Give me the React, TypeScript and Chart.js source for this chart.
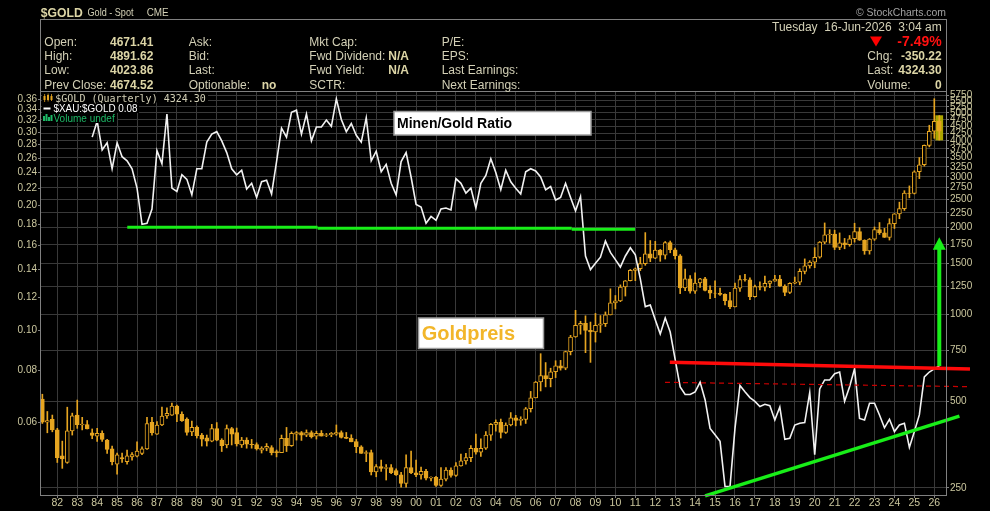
import { useEffect, useRef } from 'react';
import { Chart, registerables } from 'chart.js';

Chart.register(...registerables);

// Quarterly gold candles, the first one is 1981 Q2
const firstQuarter = 1981.25;

const goldOpen = [
  508, 422, 432,
  397, 323, 306, 394, 447, 413, 414, 388, 378, 386, 366, 341, 302, 318, 308, 320,
  322, 329, 341, 422, 384, 413, 444, 447, 480, 450, 433, 391, 405, 381, 373, 363,
  401, 366, 352, 401, 389, 352, 366, 354, 353, 338, 343, 345, 334, 331, 371, 350,
  384, 389, 381, 389, 378, 386, 380, 382, 384, 389, 374, 372, 362, 347, 329, 331,
  284, 296, 292, 294, 287, 277, 259, 294, 282, 277, 285, 270, 272, 255, 268, 288,
  276, 298, 310, 318, 343, 332, 343, 381, 415, 422, 389, 413, 437, 428, 432, 470,
  513, 582, 613, 598, 632, 663, 650, 742, 834, 916, 930, 880, 869, 916, 927, 996,
  1096, 1113, 1244, 1307, 1421, 1439, 1500, 1620, 1565, 1669, 1604, 1773, 1675, 1596, 1234, 1327,
  1202, 1284, 1327, 1211, 1184, 1183, 1172, 1115, 1061, 1233, 1321, 1316, 1152, 1249, 1242, 1280,
  1303, 1325, 1253, 1192, 1282, 1292, 1409, 1472, 1517, 1577, 1781, 1886, 1898, 1708, 1770, 1743,
  1829, 1937, 1807, 1660, 1824, 1969, 1919, 1849, 2063, 2230, 2327, 2634, 2625, 3124, 3303, 3859,
  4316, 4671.41,
];
const goldHigh = [
  528, 460, 447,
  402, 363, 476, 454, 504, 439, 428, 400, 402, 394, 368, 349, 330, 330, 338, 331,
  361, 347, 439, 439, 424, 476, 474, 492, 484, 459, 437, 426, 410, 386, 381, 415,
  421, 370, 413, 405, 403, 374, 373, 368, 358, 347, 356, 350, 338, 381, 405, 391,
  392, 392, 397, 394, 393, 395, 386, 389, 413, 394, 389, 382, 368, 350, 336, 338,
  301, 312, 301, 301, 291, 283, 325, 335, 312, 295, 290, 273, 274, 294, 294, 293,
  306, 327, 329, 350, 384, 370, 392, 418, 430, 433, 420, 456, 446, 441, 475, 540,
  585, 730, 680, 650, 690, 692, 745, 845, 1032, 946, 988, 940, 1007, 990, 1019, 1226,
  1162, 1265, 1310, 1431, 1448, 1577, 1921, 1803, 1791, 1679, 1789, 1796, 1697, 1612, 1434, 1362,
  1392, 1332, 1345, 1255, 1307, 1232, 1178, 1191, 1283, 1362, 1375, 1337, 1264, 1296, 1358, 1307,
  1366, 1365, 1266, 1287, 1347, 1439, 1557, 1535, 1703, 1789, 2075, 1966, 1959, 1916, 1834, 1877,
  2070, 1998, 1814, 1833, 2009, 2082, 1987, 2146, 2236, 2450, 2685, 2790, 3148, 3500, 3870, 4530,
  5600, 4891.62,
];
const goldLow = [
  418, 388, 391,
  306, 292, 304, 381, 402, 397, 400, 370, 362, 362, 329, 300, 279, 306, 302, 312,
  320, 326, 340, 381, 383, 411, 435, 446, 424, 425, 381, 379, 372, 349, 349, 361,
  364, 334, 344, 352, 349, 345, 343, 343, 338, 330, 336, 325, 320, 331, 334, 348,
  366, 365, 376, 372, 369, 378, 376, 376, 380, 372, 370, 361, 331, 329, 308, 277,
  273, 285, 266, 280, 276, 251, 251, 280, 273, 268, 266, 264, 253, 253, 264, 272,
  274, 297, 302, 308, 327, 321, 340, 365, 393, 372, 386, 410, 410, 412, 418, 458,
  513, 542, 560, 560, 603, 640, 642, 723, 832, 853, 736, 681, 801, 865, 907, 995,
  1044, 1106, 1157, 1305, 1308, 1418, 1479, 1523, 1560, 1527, 1555, 1635, 1555, 1180, 1207, 1183,
  1182, 1240, 1205, 1132, 1142, 1162, 1077, 1046, 1061, 1200, 1302, 1123, 1146, 1214, 1205, 1236,
  1302, 1250, 1160, 1180, 1276, 1266, 1381, 1446, 1451, 1566, 1757, 1765, 1677, 1676, 1688, 1722,
  1780, 1805, 1615, 1617, 1805, 1893, 1848, 1810, 1985, 2146, 2293, 2537, 2615, 2957, 3268, 3810,
  4080, 4023.86,
];
const goldClose = [
  422, 428, 397,
  318, 315, 394, 444, 414, 416, 400, 380, 386, 368, 340, 308, 325, 315, 323, 326,
  335, 341, 418, 388, 413, 443, 453, 480, 450, 427, 389, 405, 379, 369, 363, 401,
  366, 350, 401, 384, 355, 366, 354, 353, 341, 343, 348, 331, 331, 371, 350, 386,
  389, 381, 389, 376, 386, 378, 382, 386, 389, 374, 371, 361, 347, 329, 331, 284,
  296, 292, 294, 282, 277, 259, 294, 282, 277, 285, 270, 272, 255, 268, 288, 276,
  298, 310, 318, 343, 332, 343, 381, 415, 422, 389, 413, 437, 428, 432, 470, 513,
  582, 613, 598, 632, 663, 650, 742, 834, 916, 930, 880, 869, 916, 927, 996, 1096,
  1113, 1244, 1307, 1421, 1439, 1500, 1620, 1565, 1669, 1604, 1773, 1675, 1596, 1234, 1327, 1202,
  1284, 1327, 1211, 1184, 1183, 1172, 1115, 1061, 1233, 1321, 1316, 1152, 1249, 1242, 1280, 1303,
  1325, 1253, 1192, 1282, 1292, 1409, 1472, 1517, 1577, 1781, 1886, 1898, 1708, 1770, 1743, 1829,
  1937, 1807, 1660, 1824, 1969, 1919, 1849, 2063, 2230, 2327, 2634, 2625, 3124, 3303, 3859, 4316,
  4674.52, 4324.3,
];

// $XAU:$GOLD ratio, quarterly, the first value is 1983 Q4
const ratioStart = 1983.75;
const xauGoldRatio = [
  0.292,
  0.319, 0.272, 0.283, 0.245, 0.283, 0.262, 0.256, 0.245, 0.22, 0.18, 0.181, 0.196,
  0.271, 0.252, 0.332, 0.22, 0.216, 0.237, 0.231, 0.212, 0.245, 0.245, 0.284, 0.297,
  0.301, 0.286, 0.268, 0.245, 0.237, 0.243, 0.219, 0.226, 0.209, 0.228, 0.23, 0.213,
  0.255, 0.307, 0.292, 0.335, 0.339, 0.297, 0.332, 0.286, 0.309, 0.309, 0.321, 0.31,
  0.361, 0.322, 0.301, 0.315, 0.295, 0.284, 0.325, 0.256, 0.27, 0.241, 0.251, 0.226,
  0.212, 0.255, 0.268, 0.234, 0.201, 0.198, 0.181, 0.188, 0.184, 0.196, 0.197, 0.195,
  0.232, 0.226, 0.214, 0.22, 0.197, 0.226, 0.236, 0.259, 0.24, 0.218, 0.243, 0.228,
  0.22, 0.213, 0.241, 0.245, 0.242, 0.234, 0.218, 0.222, 0.206, 0.209, 0.226, 0.209,
  0.194, 0.21, 0.151, 0.14, 0.145, 0.15, 0.164, 0.154, 0.148, 0.142, 0.151, 0.158,
  0.152, 0.133, 0.114, 0.115, 0.106, 0.098, 0.107, 0.099, 0.085, 0.073, 0.07, 0.07,
  0.071, 0.075, 0.068, 0.058, 0.056, 0.054, 0.042, 0.042, 0.058, 0.0736, 0.0711, 0.0688,
  0.0674, 0.0655, 0.0663, 0.0658, 0.0608, 0.0653, 0.0546, 0.0549, 0.0591, 0.0597, 0.0599, 0.0708,
  0.0501, 0.0722, 0.0759, 0.0759, 0.0786, 0.0793, 0.0674, 0.0731, 0.0808, 0.0613, 0.0608, 0.0667,
  0.0667, 0.0625, 0.0582, 0.061, 0.057, 0.0591, 0.0597, 0.0522, 0.057, 0.0625, 0.0772, 0.0793,
  0.0807, 0.082,
];

const yearTicks = [
  1982, 1983, 1984, 1985, 1986, 1987, 1988, 1989, 1990, 1991, 1992, 1993, 1994, 1995, 1996,
  1997, 1998, 1999, 2000, 2001, 2002, 2003, 2004, 2005, 2006, 2007, 2008, 2009, 2010, 2011,
  2012, 2013, 2014, 2015, 2016, 2017, 2018, 2019, 2020, 2021, 2022, 2023, 2024, 2025, 2026,
];
const ratioTicks = [0.06, 0.08, 0.1, 0.12, 0.14, 0.16, 0.18, 0.2, 0.22, 0.24, 0.26, 0.28, 0.3, 0.32, 0.34, 0.36];
const goldTicks = [
  250, 500, 750, 1000, 1250, 1500, 1750, 2000, 2250, 2500, 2750, 3000,
  3250, 3500, 3750, 4000, 4250, 4500, 4750, 5000, 5250, 5500, 5750,
];

// hand drawn trend lines, [year, ratio]
const supportA = [[1985.51, 0.1771], [1995.06, 0.1771]];
const supportB = [[1995.06, 0.1761], [2007.81, 0.1761]];
const supportC = [[2007.81, 0.1751], [2010.99, 0.1751]];
const resistance = [[2012.73, 0.0837], [2027.79, 0.0807]];
const resistanceDashed = [[2012.49, 0.0749], [2027.79, 0.0731]];
const risingSupport = [[2014.5, 0.0399], [2027.26, 0.0621]];
// breakout arrow
const arrowYear = 2026.25;
const arrowFrom = 0.082;
const arrowTo = 0.1675;

const FONT = '"Liberation Sans", Arial, sans-serif';
const LABEL = '#d3d0b6';
const VALUE = '#dcd5a6';
const AXIS = '#ccc89f';
const ORANGE = '#e6a521';
const GREEN = '#18ee18';
const GRID = '#393939';
const FRAME = '#808080';

function txt(ctx: any, s: string, x: number, y: number, font: string, color: string, align = 'left', maxWidth?: number) {
  ctx.font = font;
  ctx.fillStyle = color;
  ctx.textAlign = align;
  ctx.textBaseline = 'alphabetic';
  if (maxWidth) ctx.fillText(s, x, y, maxWidth);
  else ctx.fillText(s, x, y);
}

const decorPlugin = {
  id: 'decor',
  afterDatasetsDraw(chart: any) {
    const { ctx, scales } = chart;
    const x = scales.x.getPixelForValue(arrowYear);
    const yFrom = scales.y.getPixelForValue(arrowFrom);
    const yTip = scales.y.getPixelForValue(arrowTo);
    ctx.save();
    ctx.fillStyle = GREEN;
    ctx.fillRect(x - 2, yTip + 11, 4, yFrom - yTip - 11);
    ctx.beginPath();
    ctx.moveTo(x, yTip);
    ctx.lineTo(x + 6.5, yTip + 12.5);
    ctx.lineTo(x - 6.5, yTip + 12.5);
    ctx.closePath();
    ctx.fill();
    ctx.restore();
  },
  afterDraw(chart: any) {
    const { ctx, chartArea } = chart;
    const { left, right, top, bottom } = chartArea;
    ctx.save();

    // frames
    ctx.strokeStyle = FRAME;
    ctx.lineWidth = 1;
    ctx.strokeRect(left - 0.5, 19.5, right - left + 1, top - 20);
    ctx.strokeRect(left - 0.5, top - 0.5, right - left + 1, bottom - top + 1);

    // title line
    txt(ctx, '$GOLD', 40.7, 16.5, `bold 13.5px ${FONT}`, VALUE, 'left', 42);
    txt(ctx, 'Gold - Spot', 87.5, 15.5, `10.5px ${FONT}`, LABEL, 'left', 46);
    txt(ctx, 'CME', 146.7, 15.5, `10px ${FONT}`, LABEL, 'left', 22);
    txt(ctx, '\u00a9 StockCharts.com', 946, 16, `10.5px ${FONT}`, '#a2a2a2', 'right', 90);

    // quote box
    const rows = [45.7, 60, 74.3, 88.6];
    const f = `12px ${FONT}`;
    const fb = `bold 12px ${FONT}`;
    const col1 = ['Open:', 'High:', 'Low:', 'Prev Close:'];
    const val1 = ['4671.41', '4891.62', '4023.86', '4674.52'];
    const col2 = ['Ask:', 'Bid:', 'Last:', 'Optionable:'];
    const col3 = ['Mkt Cap:', 'Fwd Dividend:', 'Fwd Yield:', 'SCTR:'];
    const col4 = ['P/E:', 'EPS:', 'Last Earnings:', 'Next Earnings:'];
    rows.forEach((y, i) => {
      txt(ctx, col1[i], 44.3, y, f, LABEL);
      txt(ctx, val1[i], 110, y, fb, VALUE);
      txt(ctx, col2[i], 188.7, y, f, LABEL);
      txt(ctx, col3[i], 309.3, y, f, LABEL);
      txt(ctx, col4[i], 441.7, y, f, LABEL);
    });
    txt(ctx, 'no', 261.7, rows[3], fb, VALUE);
    txt(ctx, 'N/A', 388.3, rows[1], fb, VALUE);
    txt(ctx, 'N/A', 388.3, rows[2], fb, VALUE);

    txt(ctx, 'Tuesday  16-Jun-2026  3:04 am', 941.7, 30.7, f, LABEL, 'right');
    ctx.fillStyle = '#ff0000';
    ctx.beginPath();
    ctx.moveTo(870, 36.5);
    ctx.lineTo(882, 36.5);
    ctx.lineTo(876, 46.5);
    ctx.closePath();
    ctx.fill();
    txt(ctx, '-7.49%', 941.7, 46, `bold 14px ${FONT}`, '#ff1010', 'right');
    txt(ctx, 'Chg:', 867.3, rows[1], f, LABEL);
    txt(ctx, '-350.22', 941.7, rows[1], fb, VALUE, 'right');
    txt(ctx, 'Last:', 867.3, rows[2], f, LABEL);
    txt(ctx, '4324.30', 941.7, rows[2], fb, VALUE, 'right');
    txt(ctx, 'Volume:', 867.3, rows[3], f, LABEL);
    txt(ctx, '0', 941.7, rows[3], fb, VALUE, 'right');

    // legend in the plot
    ctx.fillStyle = '#000';
    ctx.fillRect(42, 92.5, 166, 10);
    ctx.fillRect(42, 103, 97, 10);
    ctx.fillRect(42, 113, 75, 10);
    ctx.fillStyle = ORANGE;
    ctx.fillRect(43.5, 96, 2, 4);
    ctx.fillRect(44.3, 94, 0.8, 8);
    ctx.fillRect(47, 95, 2, 5);
    ctx.fillRect(47.7, 93.5, 0.8, 8);
    ctx.fillRect(50.5, 96, 2, 4);
    ctx.fillRect(51.2, 94, 0.8, 7);
    txt(ctx, '$GOLD (Quarterly) 4324.30', 55.3, 101.5, '10px "DejaVu Sans Mono", monospace', LABEL, 'left', 152);
    ctx.fillStyle = '#ffffff';
    ctx.fillRect(43.5, 107.5, 7, 2);
    txt(ctx, '$XAU:$GOLD 0.08', 53.5, 111.6, `10px ${FONT}`, '#ffffff', 'left', 84);
    ctx.fillStyle = '#1db866';
    ctx.fillRect(43, 116, 2, 5);
    ctx.fillRect(45.5, 114, 2, 7);
    ctx.fillRect(48, 117, 2, 4);
    ctx.fillRect(50.5, 115, 2, 6);
    txt(ctx, 'Volume undef', 53.5, 121.6, `10px ${FONT}`, '#1db866', 'left', 63);

    // annotation boxes
    ctx.fillStyle = '#ffffff';
    ctx.strokeStyle = '#9c9c9c';
    ctx.lineWidth = 1.5;
    ctx.fillRect(394, 111.5, 197, 23.5);
    ctx.strokeRect(394, 111.5, 197, 23.5);
    txt(ctx, 'Minen/Gold Ratio', 397, 127.8, `bold 14px ${FONT}`, '#000000', 'left', 122);
    ctx.fillStyle = '#ffffff';
    ctx.fillRect(418.5, 318, 125, 30.5);
    ctx.strokeRect(418.5, 318, 125, 30.5);
    txt(ctx, 'Goldpreis', 421.7, 339.5, `bold 20px ${FONT}`, '#f2b62a', 'left', 96);

    ctx.restore();
  },
};

const toPoints = (pts: number[][]) => pts.map(([x, y]) => ({ x, y }));

function trend(pts: number[][], color: string, width: number, dash: number[] = []) {
  return {
    type: 'line',
    data: toPoints(pts),
    borderColor: color,
    borderWidth: width,
    borderDash: dash,
    pointRadius: 0,
    clip: false,
    yAxisID: 'y',
    order: 0,
  };
}

export default function App() {
  const canvasRef = useRef<HTMLCanvasElement>(null);

  useEffect(() => {
    const canvas = canvasRef.current;
    if (!canvas) return;

    const candles = goldClose.map((c, i) => ({
      x: firstQuarter + i * 0.25,
      o: goldOpen[i],
      h: goldHigh[i],
      l: goldLow[i],
      c,
    }));
    const last = candles[candles.length - 1];

    const chart = new Chart(canvas, {
      type: 'bar',
      data: {
        datasets: [
          trend(supportA, GREEN, 3),
          trend(supportB, GREEN, 3),
          trend(supportC, GREEN, 3),
          trend(resistance, '#ff0a0a', 3.5),
          trend(resistanceDashed, '#c80000', 1.2, [5, 4]),
          trend(risingSupport, GREEN, 3.5),
          {
            type: 'line',
            data: xauGoldRatio.map((v, i) => ({ x: ratioStart + i * 0.25, y: v })),
            borderColor: '#f2f2f2',
            borderWidth: 1.6,
            pointRadius: 0,
            tension: 0,
            yAxisID: 'y',
            order: 1,
          },
          {
            type: 'bar',
            data: candles.map((k) => ({ x: k.x, y: [Math.min(k.o, k.c), Math.max(k.o, k.c)] })),
            backgroundColor: candles.map((k) => (k.c < k.o ? ORANGE : '#000000')),
            borderColor: ORANGE,
            borderWidth: 1,
            borderSkipped: false,
            barThickness: 4,
            grouped: false,
            yAxisID: 'y2',
            order: 2,
          },
          {
            type: 'bar',
            data: candles.map((k) => ({ x: k.x, y: [k.l, k.h] })),
            backgroundColor: ORANGE,
            barThickness: 1,
            grouped: false,
            yAxisID: 'y2',
            order: 3,
          },
          {
            type: 'bar',
            data: [{ x: last.x, y: [last.l, last.h] }],
            backgroundColor: '#aba600',
            barThickness: 7,
            grouped: false,
            yAxisID: 'y2',
            order: 4,
          },
        ],
      },
      options: {
        responsive: false,
        animation: false,
        layout: { padding: { top: 92, left: 0, right: 0, bottom: 0 } },
        plugins: {
          legend: { display: false },
          tooltip: { enabled: false },
        },
        scales: {
          x: {
            type: 'linear',
            position: 'bottom',
            min: 1981.182,
            max: 2026.587,
            offset: false,
            afterBuildTicks: (s: any) => {
              s.ticks = yearTicks.map((v) => ({ value: v }));
            },
            afterFit: (s: any) => {
              s.height = 16;
            },
            grid: { color: GRID, offset: false, tickLength: 3, tickColor: FRAME },
            border: { display: false },
            ticks: {
              color: AXIS,
              font: { family: FONT, size: 10.5 },
              padding: -1.5,
              maxRotation: 0,
              autoSkip: false,
              callback: (v: any) => String(Number(v) % 100).padStart(2, '0'),
            },
          },
          y: {
            type: 'logarithmic',
            position: 'left',
            min: 0.04008,
            max: 0.3751,
            beginAtZero: false,
            afterBuildTicks: (s: any) => {
              s.ticks = ratioTicks.map((v) => ({ value: v }));
            },
            afterFit: (s: any) => {
              s.width = 41;
            },
            grid: { drawOnChartArea: false, tickLength: 3, tickColor: FRAME, color: FRAME },
            border: { display: false },
            ticks: {
              color: AXIS,
              font: { family: FONT, size: 10 },
              padding: 1,
              autoSkip: false,
              callback: (v: any) => Number(v).toFixed(2),
            },
          },
          y2: {
            type: 'logarithmic',
            position: 'right',
            min: 236,
            max: 5908,
            beginAtZero: false,
            afterBuildTicks: (s: any) => {
              s.ticks = goldTicks.map((v) => ({ value: v }));
            },
            afterFit: (s: any) => {
              s.width = 44;
            },
            grid: { color: GRID, tickLength: 3, tickColor: FRAME },
            border: { display: false },
            ticks: {
              color: AXIS,
              font: { family: FONT, size: 10 },
              padding: 1,
              autoSkip: false,
              callback: (v: any) => String(v),
            },
          },
        },
      },
      plugins: [decorPlugin],
    } as any);

    return () => {
      chart.destroy();
    };
  }, []);

  return (
    <div style={{ position: 'absolute', left: 0, top: 0, width: 990, height: 511, background: '#000' }}>
      <canvas ref={canvasRef} width={990} height={511} style={{ display: 'block' }} />
    </div>
  );
}
